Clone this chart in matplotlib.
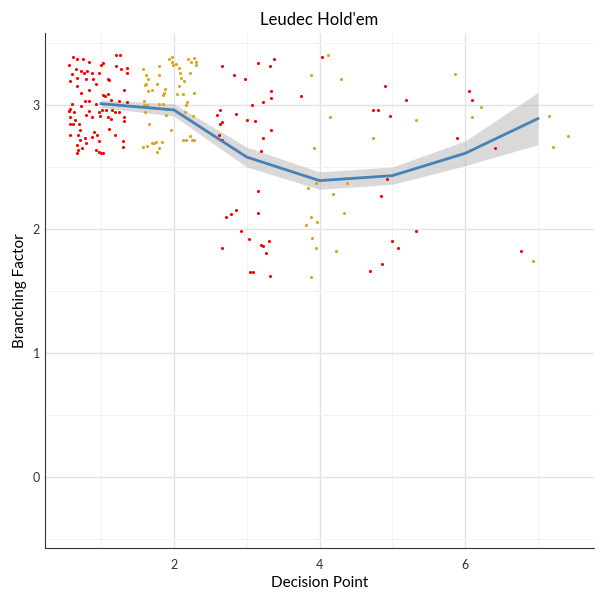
import numpy as np
from matplotlib import pyplot as plt

# decision point means and confidence band
line_x = [1, 2, 3, 4, 5, 6, 7]
line_y = [3.01, 2.96, 2.58, 2.39, 2.43, 2.61, 2.89]
band_half = [0.03, 0.05, 0.08, 0.07, 0.07, 0.10, 0.21]

red_x = [0.61, 0.67, 0.75, 0.84, 0.56, 0.60, 0.66, 0.72, 0.76, 0.81, 0.87, 0.58, 0.67, 0.67,
         0.72, 0.79, 0.84, 0.89, 0.93, 0.97, 1.00, 1.03, 0.60, 0.58, 0.56, 0.63, 0.73, 0.78,
         0.83, 0.79, 0.84, 0.88, 0.93, 0.97, 0.99, 0.58, 0.64, 0.57, 0.61, 0.70, 0.71, 0.68,
         0.57, 0.71, 0.78, 0.79, 0.87, 0.90, 0.95, 0.97, 0.67, 0.74, 0.68, 0.67, 0.93, 0.97,
         1.00, 1.03, 1.02, 1.06, 1.10, 1.14, 1.24, 1.36, 1.15, 1.19, 1.24, 1.09, 1.13, 1.31,
         1.31, 1.11, 1.19, 1.30, 1.30, 1.21, 1.26, 1.21, 1.27, 1.35, 1.36, 1.09, 1.11, 1.31,
         1.07, 1.01,
         2.66, 2.82, 2.97, 3.15, 3.32, 3.38, 3.33, 3.34, 3.22, 3.07, 3.75, 4.04, 2.64, 2.59,
         2.63, 2.66, 2.86, 3.01, 3.12, 3.33, 2.62, 2.66, 3.22, 3.19, 3.16, 3.16, 2.71, 2.78,
         2.85, 2.92, 3.03, 2.66, 3.19, 3.22, 3.30, 3.26, 3.04, 3.08, 3.32, 4.90, 5.19, 4.74,
         4.81, 4.97, 4.93, 4.84, 5.00, 5.08, 5.32, 4.86, 4.70, 6.05, 6.10, 5.89, 6.41, 6.77]
red_y = [3.39, 3.37, 3.37, 3.35, 3.32, 3.25, 3.29, 3.27, 3.26, 3.27, 3.26, 3.19, 3.22, 3.15,
         3.10, 3.21, 3.12, 3.21, 3.17, 3.26, 3.32, 3.34, 3.01, 2.97, 2.95, 2.94, 2.99, 3.03,
         3.03, 2.92, 2.95, 2.90, 3.01, 2.94, 2.91, 2.90, 2.88, 2.85, 2.85, 2.85, 2.80, 2.76,
         2.76, 2.72, 2.73, 2.69, 2.74, 2.78, 2.76, 2.71, 2.68, 2.65, 2.64, 2.61, 2.64, 2.62,
         2.61, 2.61, 3.08, 3.07, 3.09, 3.04, 3.03, 3.02, 2.96, 2.94, 2.94, 2.90, 2.89, 2.90,
         2.87, 2.81, 2.76, 2.71, 2.66, 3.40, 3.40, 3.31, 3.29, 3.30, 3.26, 3.21, 3.20, 3.12,
         2.96, 2.96,
         3.31, 3.24, 3.21, 3.34, 3.31, 3.37, 3.11, 3.06, 3.02, 3.00, 3.07, 3.39, 2.96, 2.92,
         2.85, 2.86, 2.93, 2.88, 2.87, 2.80, 2.76, 2.72, 2.73, 2.63, 2.31, 2.13, 2.10, 2.12,
         2.15, 1.98, 1.92, 1.85, 1.87, 1.86, 1.90, 1.81, 1.65, 1.65, 1.62, 3.15, 3.04, 2.96,
         2.96, 2.91, 2.40, 2.27, 1.90, 1.85, 1.98, 1.72, 1.66, 3.11, 3.04, 2.73, 2.65, 1.82]

gold_x = [1.57, 1.62, 1.65, 1.62, 1.61, 1.70, 1.64, 1.77, 1.80, 1.79, 1.88, 1.86, 1.85, 1.93,
          1.97, 1.97, 1.99, 2.03, 2.07, 2.08, 2.10, 2.14, 2.07, 2.12, 2.04, 2.20, 2.24, 2.27,
          2.30, 2.30, 2.22, 2.28, 2.18, 2.16, 2.15, 2.26, 1.59, 1.59, 1.63, 1.60, 1.80, 1.85,
          1.89, 1.89, 1.66, 1.96, 2.22, 2.25, 2.28, 2.12, 2.17, 1.58, 1.63, 1.70, 1.75, 1.73,
          1.79, 1.77, 1.84,
          3.88, 4.12, 4.30, 4.15, 3.93, 4.74, 5.32, 5.86, 6.22, 6.10, 3.95, 3.84, 4.38, 4.18,
          4.33, 3.89, 3.96, 3.81, 3.90, 3.95, 4.22, 3.89, 7.15, 7.21, 7.41, 6.93]
gold_y = [3.29, 3.24, 3.21, 3.17, 3.16, 3.12, 3.11, 3.17, 3.24, 3.31, 3.13, 3.10, 3.08, 3.37,
          3.39, 3.35, 3.32, 3.33, 3.30, 3.26, 3.22, 3.19, 3.15, 3.09, 3.09, 3.37, 3.35, 3.38,
          3.35, 3.32, 3.26, 3.10, 3.02, 3.00, 2.94, 2.91, 3.03, 3.00, 3.00, 2.94, 3.01, 3.01,
          2.92, 2.97, 2.85, 2.80, 2.75, 2.72, 2.72, 2.72, 2.72, 2.66, 2.67, 2.69, 2.70, 2.69,
          2.65, 2.62, 2.70,
          3.24, 3.40, 3.21, 2.90, 2.65, 2.73, 2.88, 3.25, 2.98, 2.90, 2.37, 2.33, 2.37, 2.28,
          2.13, 2.10, 2.06, 2.03, 1.93, 1.85, 1.82, 1.61, 2.91, 2.66, 2.75, 1.74]

plt.rcParams['font.family'] = ['Lato', 'DejaVu Sans']
fig, ax = plt.subplots(figsize=(6, 6), dpi=100)
ax.scatter(red_x, red_y, s=5, c='#ff0000', linewidths=0, zorder=3)
ax.scatter(gold_x, gold_y, s=5, c='#daa520', linewidths=0, zorder=3)
lo = np.array(line_y) - np.array(band_half)
hi = np.array(line_y) + np.array(band_half)
ax.fill_between(line_x, lo, hi, color='#bbbbbb', alpha=0.55, linewidth=0, zorder=2)
ax.plot(line_x, line_y, color='#4682b4', lw=2, zorder=4)

ax.set_xlim(0.23, 7.77)
ax.set_ylim(-0.57, 3.58)
ax.set_xticks([2, 4, 6])
ax.set_yticks([0, 1, 2, 3])
ax.set_xticks([1, 3, 5, 7], minor=True)
ax.set_yticks([-0.5, 0.5, 1.5, 2.5, 3.5], minor=True)
ax.grid(True, which='major', color='#e3e3e3', lw=1)
ax.grid(True, which='minor', color='#f3f3f3', lw=0.7)
ax.set_axisbelow(True)
ax.tick_params(which='both', length=0, labelsize=9, colors='#333333')
ax.tick_params(axis='x', pad=8)
for s in ['top', 'right']:
    ax.spines[s].set_visible(False)
ax.spines['left'].set_color('#333333')
ax.spines['bottom'].set_color('#333333')
ax.set_title("Leudec Hold'em", fontsize=12)
ax.set_xlabel('Decision Point', fontsize=11)
ax.set_ylabel('Branching Factor', fontsize=11)
fig.subplots_adjust(left=0.075, right=0.99, top=0.945, bottom=0.087)
fig.savefig('out.png')
